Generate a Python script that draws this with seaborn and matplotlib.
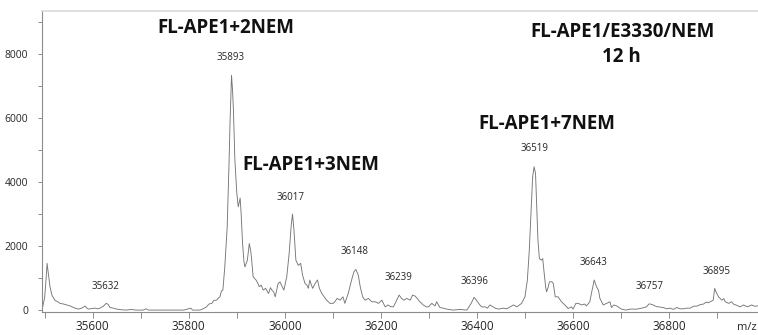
import pandas as pd
import numpy as np
import matplotlib
matplotlib.use('Agg')
import matplotlib.pyplot as plt
from matplotlib.ticker import MultipleLocator
import seaborn as sns

sns.set_style('white')
plt.rcParams['font.family'] = ['Open Sans', 'DejaVu Sans']

# deconvoluted spectrum (m/z, intensity)
mz = [35495, 35500, 35503, 35505, 35508, 35511, 35515, 35521, 35527, 35532,
      35539, 35546, 35553, 35560, 35566, 35570, 35577, 35584, 35588, 35591,
      35598, 35605, 35610, 35615, 35622, 35628, 35632, 35636, 35643, 35650,
      35660, 35670, 35680, 35690, 35705, 35711, 35716, 35750, 35790, 35804,
      35808, 35823, 35830, 35837, 35842, 35848, 35852, 35858, 35862, 35865,
      35868, 35871, 35875, 35880, 35882, 35884, 35886, 35889, 35891, 35893,
      35896, 35900, 35903, 35907, 35909, 35912, 35915, 35917, 35922, 35926,
      35929, 35931, 35934, 35940, 35944, 35947, 35951, 35955, 35960, 35966,
      35970, 35973, 35977, 35980, 35986, 35990, 35993, 35998, 36004, 36009,
      36013, 36016, 36019, 36023, 36028, 36033, 36037, 36042, 36046, 36049,
      36052, 36055, 36058, 36063, 36068, 36072, 36077, 36082, 36087, 36094,
      36101, 36105, 36109, 36115, 36121, 36125, 36132, 36139, 36144, 36148,
      36153, 36157, 36162, 36167, 36174, 36181, 36188, 36195, 36202, 36209,
      36215, 36220, 36226, 36233, 36238, 36243, 36248, 36254, 36261, 36266,
      36271, 36275, 36281, 36285, 36288, 36295, 36299, 36306, 36313, 36316,
      36323, 36330, 36337, 36351, 36365, 36379, 36388, 36394, 36396, 36401,
      36406, 36410, 36417, 36422, 36427, 36438, 36445, 36455, 36462, 36469,
      36476, 36483, 36493, 36500, 36505, 36509, 36513, 36516, 36519, 36522,
      36524, 36527, 36530, 36534, 36537, 36540, 36543, 36545, 36548, 36551,
      36556, 36559, 36563, 36569, 36576, 36583, 36590, 36597, 36600, 36606,
      36611, 36618, 36624, 36628, 36635, 36639, 36642, 36644, 36649, 36653,
      36656, 36663, 36670, 36677, 36680, 36685, 36691, 36694, 36701, 36710,
      36719, 36733, 36743, 36753, 36758, 36761, 36767, 36772, 36778, 36788,
      36795, 36802, 36809, 36816, 36823, 36830, 36837, 36844, 36851, 36858,
      36865, 36872, 36877, 36882, 36888, 36892, 36895, 36898, 36903, 36910,
      36914, 36917, 36924, 36930, 36935, 36939, 36948, 36955, 36963, 36972,
      36978, 36985]
intensity = [40, 400, 1000, 1460, 1100, 730, 470, 310, 260, 210,
             190, 160, 130, 80, 50, 30, 60, 125, 60, 30,
             50, 60, 40, 60, 120, 210, 180, 80, 60, 30,
             10, 0, 20, 0, 0, 40, 0, 0, 0, 60,
             0, 0, 40, 100, 190, 210, 300, 310, 380, 415,
             600, 625, 1350, 2600, 3650, 4690, 5900, 7340, 6900, 6250,
             4690, 3650, 3230, 3500, 3020, 2080, 1500, 1350, 1560, 2080,
             1850, 1560, 1040, 940, 830, 730, 780, 625, 680, 520,
             700, 625, 560, 415, 830, 880, 780, 625, 1040, 1770,
             2600, 3000, 2500, 1560, 1400, 1460, 1090, 830, 780, 680,
             940, 800, 680, 830, 940, 680, 520, 415, 310, 210,
             210, 280, 365, 310, 415, 210, 520, 940, 1200, 1270,
             1090, 730, 415, 310, 365, 260, 260, 210, 310, 100,
             160, 110, 100, 310, 470, 365, 310, 365, 310, 470,
             440, 375, 260, 210, 160, 100, 100, 210, 130, 260,
             80, 60, 30, 0, 20, 0, 210, 400, 365, 260,
             160, 100, 100, 60, 160, 60, 30, 60, 40, 100,
             160, 100, 210, 415, 940, 1875, 3230, 4170, 4480, 4270,
             3440, 2190, 1610, 1560, 1610, 1150, 730, 570, 700, 885,
             885, 830, 415, 415, 260, 160, 50, 100, 30, 210,
             210, 160, 190, 130, 260, 570, 780, 940, 730, 625,
             365, 160, 210, 260, 80, 160, 130, 100, 30, 0,
             30, 30, 60, 100, 190, 190, 160, 120, 100, 80,
             40, 60, 20, 80, 40, 40, 60, 60, 120, 125,
             170, 190, 250, 230, 280, 310, 680, 560, 415, 310,
             360, 260, 210, 260, 180, 160, 100, 160, 100, 160,
             120, 130]

peak_labels = ['35632', '35893', '36017', '36148', '36239',
               '36396', '36519', '36643', '36757', '36895']

titles = ['FL-APE1+2NEM', 'FL-APE1+3NEM', 'FL-APE1+7NEM',
          'FL-APE1/E3330/NEM', '12 h']

df = pd.DataFrame({'m/z': mz, 'Intensity': intensity})

W, H = 758, 335
fig = plt.figure(figsize=(W / 100, H / 100), dpi=100)
ax = fig.add_axes([42 / W, (H - 312) / H, 1 - 42 / W, (312 - 11) / H])

sns.lineplot(data=df, x='m/z', y='Intensity', ax=ax, color='#767676',
             linewidth=0.65, estimator=None, sort=False)

ax.set_xlim(35494.4, 36985.2)
ax.set_ylim(-60, 9350)
ax.set_xlabel('')
ax.set_ylabel('')

ax.xaxis.set_major_locator(MultipleLocator(200))
ax.xaxis.set_minor_locator(MultipleLocator(100))
ax.yaxis.set_major_locator(MultipleLocator(2000))
ax.yaxis.set_minor_locator(MultipleLocator(1000))
ax.tick_params(axis='x', which='both', direction='out', length=4, width=0.7,
               color='#8c8c8c', labelsize=8.5, labelcolor='#262626', pad=2,
               bottom=True)
ax.tick_params(axis='y', which='both', direction='out', length=3, width=0.7,
               color='#8c8c8c', labelsize=7.5, labelcolor='#262626', pad=7,
               left=True)
ax.set_yticks([0, 2000, 4000, 6000, 8000])

for side in ['left', 'bottom']:
    ax.spines[side].set_color('#8c8c8c')
    ax.spines[side].set_linewidth(0.8)
ax.spines['top'].set_color('#d9d9d9')
ax.spines['top'].set_linewidth(1.2)
ax.spines['right'].set_visible(False)

# peak annotations (data coordinates)
label_pos = [(35626, 728), (35887, 7897), (36011, 3522), (36146, 1822),
             (36236, 1022), (36394, 884), (36519, 5053), (36642, 1478),
             (36759, 728), (36898, 1197)]
for lab, (px, py) in zip(peak_labels, label_pos):
    ax.text(px, py, lab, fontsize=7, ha='center', va='center', color='#262626')

# bold headings (figure pixel positions)
title_pos = [(226, 28), (311, 165), (547, 124), (622, 32), (621, 57)]
for t, (tx, ty) in zip(titles, title_pos):
    fig.text(tx / W, 1 - ty / H, t, fontsize=13.5, fontweight='bold',
             ha='center', va='center', color='#111111')

fig.text(757 / W, 1 - 328 / H, 'm/z', fontsize=8, ha='right', va='center',
         color='#262626')

fig.savefig('out.png', dpi=100)
